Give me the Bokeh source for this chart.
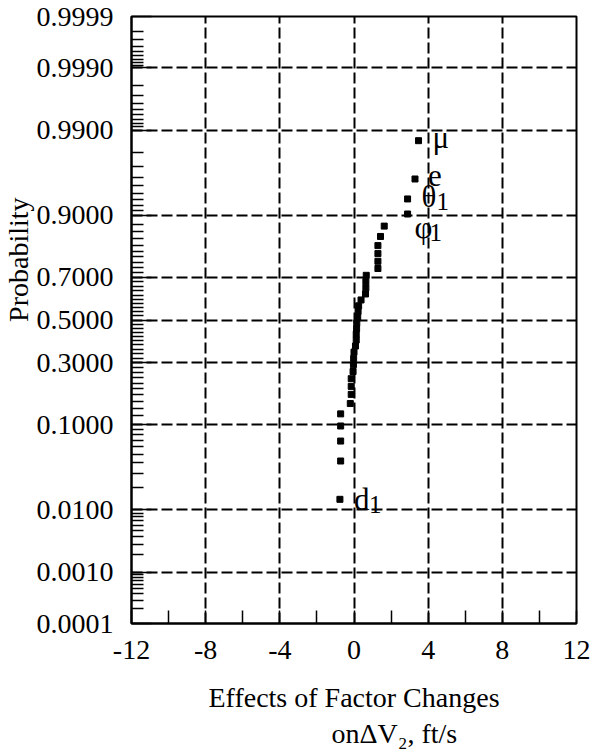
from statistics import NormalDist

from bokeh.plotting import figure
from bokeh.models import (Range1d, FixedTicker, CustomJSTickFormatter, Title,
                          ColumnDataSource)
from bokeh.core.properties import value
from bokeh.embed import file_html
from bokeh.resources import INLINE

# ---- data (sorted effects and their plotting probabilities)
effects = [-0.76, -0.72, -0.72, -0.72, -0.72, -0.20, -0.15, -0.15, -0.15,
           -0.05, -0.03, -0.02, 0.00, 0.08, 0.12, 0.12, 0.14, 0.15,
           0.20, 0.22, 0.25, 0.38, 0.62, 0.64, 0.64, 0.66, 1.29,
           1.29, 1.29, 1.29, 1.43, 1.63, 2.89, 2.89, 3.29, 3.48]
probabilities = [0.014, 0.042, 0.069, 0.097, 0.125, 0.153, 0.181, 0.208, 0.236,
                 0.264, 0.292, 0.319, 0.347, 0.375, 0.403, 0.431, 0.458, 0.486,
                 0.514, 0.542, 0.569, 0.597, 0.625, 0.653, 0.681, 0.708, 0.736,
                 0.764, 0.792, 0.819, 0.847, 0.875, 0.903, 0.931, 0.958, 0.986]

# labelled points: name, subscript, index of the point (0-based)
label_names = ["μ", "e", "θ", "φ", "d"]
label_subs = ["", "", "1", "1", "1"]
label_index = [35, 34, 33, 32, 0]

# axes
x_ticks = [-12, -8, -4, 0, 4, 8, 12]
x_minor = [-10, -6, -2, 2, 6, 10]
y_tick_probs = [0.0001, 0.001, 0.01, 0.1, 0.3, 0.5, 0.7, 0.9, 0.99, 0.999, 0.9999]
y_tick_labels = ["0.0001", "0.0010", "0.0100", "0.1000", "0.3000", "0.5000",
                 "0.7000", "0.9000", "0.9900", "0.9990", "0.9999"]
y_minor_probs = ([k / 10000 for k in range(2, 10)] + [k / 1000 for k in range(2, 10)]
                 + [k / 100 for k in range(2, 10)]
                 + [k / 100 for k in range(12, 90, 2) if k not in (30, 50, 70)]
                 + [k / 100 for k in range(91, 99)] + [k / 1000 for k in range(991, 999)]
                 + [k / 10000 for k in range(9991, 9999)])

x_title_1 = "Effects of Factor Changes"
x_title_2 = "onΔV₂, ft/s"
y_title = "Probability"

# ---- normal probability transform
N = NormalDist()
z = [N.inv_cdf(q) for q in probabilities]
z_ticks = [N.inv_cdf(q) for q in y_tick_probs]
z_minor = [N.inv_cdf(q) for q in y_minor_probs]

FONT = "Liberation Serif"
FS = "28px"

W, H = 594, 749
p = figure(width=W, height=H, output_backend="svg", toolbar_location=None,
           x_range=Range1d(-12, 12), y_range=Range1d(z_ticks[0], z_ticks[-1]),
           min_border_left=130, min_border_right=18, min_border_top=16,
           min_border_bottom=126)
p.background_fill_color = "white"
p.border_fill_color = "white"
p.outline_line_color = "black"
p.outline_line_width = 2

# axes
p.xaxis.ticker = FixedTicker(ticks=x_ticks, minor_ticks=x_minor)
p.xaxis.formatter = CustomJSTickFormatter(code="return tick.toString();")
p.yaxis.ticker = FixedTicker(ticks=z_ticks, minor_ticks=z_minor)
p.yaxis.formatter = CustomJSTickFormatter(
    args=dict(zt=z_ticks, lab=y_tick_labels),
    code="""
    for (let i = 0; i < zt.length; i++) {
        if (Math.abs(zt[i] - tick) < 1e-6) { return lab[i]; }
    }
    return "";
    """)
for ax in (p.xaxis[0], p.yaxis[0]):
    ax.axis_line_color = "black"
    ax.axis_line_width = 2
    ax.major_tick_out = 0
    ax.minor_tick_out = 0
    ax.major_tick_line_color = "black"
    ax.minor_tick_line_color = "black"
    ax.major_tick_line_width = 1.5
    ax.minor_tick_line_width = 1.5
    ax.major_label_text_font = FONT
    ax.major_label_text_font_size = FS
    ax.major_label_text_color = "black"
p.xaxis.major_tick_in = 13
p.xaxis.minor_tick_in = 13
p.yaxis.major_tick_in = 20
p.yaxis.minor_tick_in = 12
p.xaxis.major_label_standoff = 17
p.yaxis.major_label_standoff = 18

# x title, first line as the axis label
p.xaxis.axis_label = x_title_1
p.xaxis.axis_label_text_font = FONT
p.xaxis.axis_label_text_font_size = FS
p.xaxis.axis_label_text_font_style = "normal"
p.xaxis.axis_label_text_color = "black"
p.xaxis.axis_label_standoff = 20

# x title, second line
p.add_layout(Title(text=x_title_2, align="left", offset=200, standoff=0,
                   text_font=FONT, text_font_size=FS, text_font_style="normal",
                   text_color="black"), "below")

# y title
p.add_layout(Title(text=y_title, align="right", offset=181, standoff=0,
                   text_font=FONT, text_font_size=FS, text_font_style="normal",
                   text_color="black"), "left")

# grid
for g in (p.xgrid[0], p.ygrid[0]):
    g.grid_line_color = "black"
    g.grid_line_width = 2
    g.grid_line_dash = "11 4"

# points
src = ColumnDataSource(dict(x=effects, y=z))
p.scatter("x", "y", source=src, marker="square", size=6, color="black")

# point labels
x_off = [14, 13, 14, 7, 14]
y_off = [-3, -3, -2, 13, 0]
lab_src = ColumnDataSource(dict(
    x=[effects[i] for i in label_index], y=[z[i] for i in label_index],
    text=label_names, sub=label_subs, xo=x_off, yo=y_off,
    xs=[xo + 15 for xo in x_off], ys=[yo + 5 for yo in y_off]))
p.text("x", "y", text="text", source=lab_src, x_offset="xo", y_offset="yo",
       text_font=value(FONT), text_font_size="31px", text_color="black",
       text_align="left", text_baseline="middle")
p.text("x", "y", text="sub", source=lab_src, x_offset="xs", y_offset="ys",
       text_font=value(FONT), text_font_size="25px", text_color="black",
       text_align="left", text_baseline="middle")

open("out.html", "w").write(file_html(p, INLINE))
